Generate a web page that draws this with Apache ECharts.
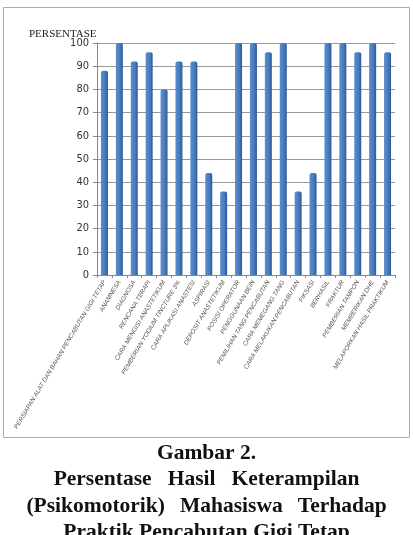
<!DOCTYPE html>
<html><head><meta charset="utf-8">
<script src="https://cdn.jsdelivr.net/npm/echarts@6/dist/echarts.min.js"></script>
<style>html,body{margin:0;padding:0;background:#fff;}#c{width:413px;height:535px;}</style>
</head><body><div id="c"></div>
<script>
const categories = [
  'PERSIAPAN ALAT DAN BAHAN PENCABUTAN GIGI TETAP','ANAMNESA','DIAGNOSA','RENCANA TERAPI',
  'CARA MENGISI ANASTETIKUM','PEMBERIAN YODIUM TINCTURE 3%','CARA APLIKASI ANASTESI','ASPIRASI',
  'DEPOSIT ANASTETIKUM','POSISI OPERATOR','PENGGUNAAN BEIN','PEMILIHAN TANG PENCABUTAN',
  'CARA MEMEGANG TANG','CARA MELAKUKAN PENCABUTAN','FIKSASI','BERHASIL','FRAKTUR',
  'PEMBERIAN TAMPON','MEMBERIKAN DHE','MELAPORKAN HASIL PRAKTIKUM'
];
const values = [88,100,92,96,80,92,92,44,36,100,100,96,100,36,44,100,100,96,100,96];
const yTicks = [0,10,20,30,40,50,60,70,80,90,100];
const yName = 'PERSENTASE';
const captionLines = ['Gambar 2.','Persentase Hasil Keterampilan','(Psikomotorik) Mahasiswa Terhadap','Praktik Pencabutan Gigi Tetap'];
const wordGaps = [' ', '   ', '  \u2009', ' '];

const chart = echarts.init(document.getElementById('c'));
const capFont = 'bold 21.5px "Liberation Serif"';
const capTops = [442, 468.5, 495, 521.5];
chart.setOption({
  animation: false,
  title: {text: yName, left: 24, top: 24, textStyle: {fontFamily: 'Liberation Serif', fontWeight: 'normal', fontSize: 11, color: '#222'}},
  grid: {left: 97, right: 18, top: 43, bottom: 260},
  xAxis: {
    type: 'category', data: categories,
    axisLine: {lineStyle: {color: '#888'}},
    axisTick: {show: true, lineStyle: {color: '#888'}, length: 3},
    axisLabel: {rotate: 59, interval: 0, fontSize: 6.3, fontStyle: 'italic', color: '#555', fontFamily: 'Liberation Sans', margin: 6}
  },
  yAxis: {
    type: 'value', min: yTicks[0], max: yTicks[yTicks.length-1], interval: 10,
    axisLine: {show: true, lineStyle: {color: '#888'}},
    axisTick: {show: true, lineStyle: {color: '#888'}, length: 4},
    axisLabel: {fontFamily: '"DejaVu Sans Condensed", "Liberation Sans"', fontSize: 11, color: '#333', margin: 8},
    splitLine: {lineStyle: {color: '#999', width: 1}}
  },
  series: [{
    type: 'bar', data: values, barWidth: 7,
    itemStyle: {
      color: new echarts.graphic.LinearGradient(0,0,1,0,[
        {offset:0,color:'#5b8ed0'},{offset:0.55,color:'#4a7dc0'},{offset:1,color:'#2c5a94'}
      ]),
      borderRadius: [2,2,0,0]
    }
  }],
  graphic: [
    {type: 'rect', shape: {x: 3.5, y: 7.5, width: 406, height: 430}, style: {fill: 'none', stroke: '#aaa', lineWidth: 1}, silent: true}
  ].concat(captionLines.map((t, i) => ({
    type: 'text', left: 'center', top: capTops[i],
    style: {text: t.split(' ').join(wordGaps[i]), font: capFont, fill: '#111'}
  })))
});
</script></body></html>
